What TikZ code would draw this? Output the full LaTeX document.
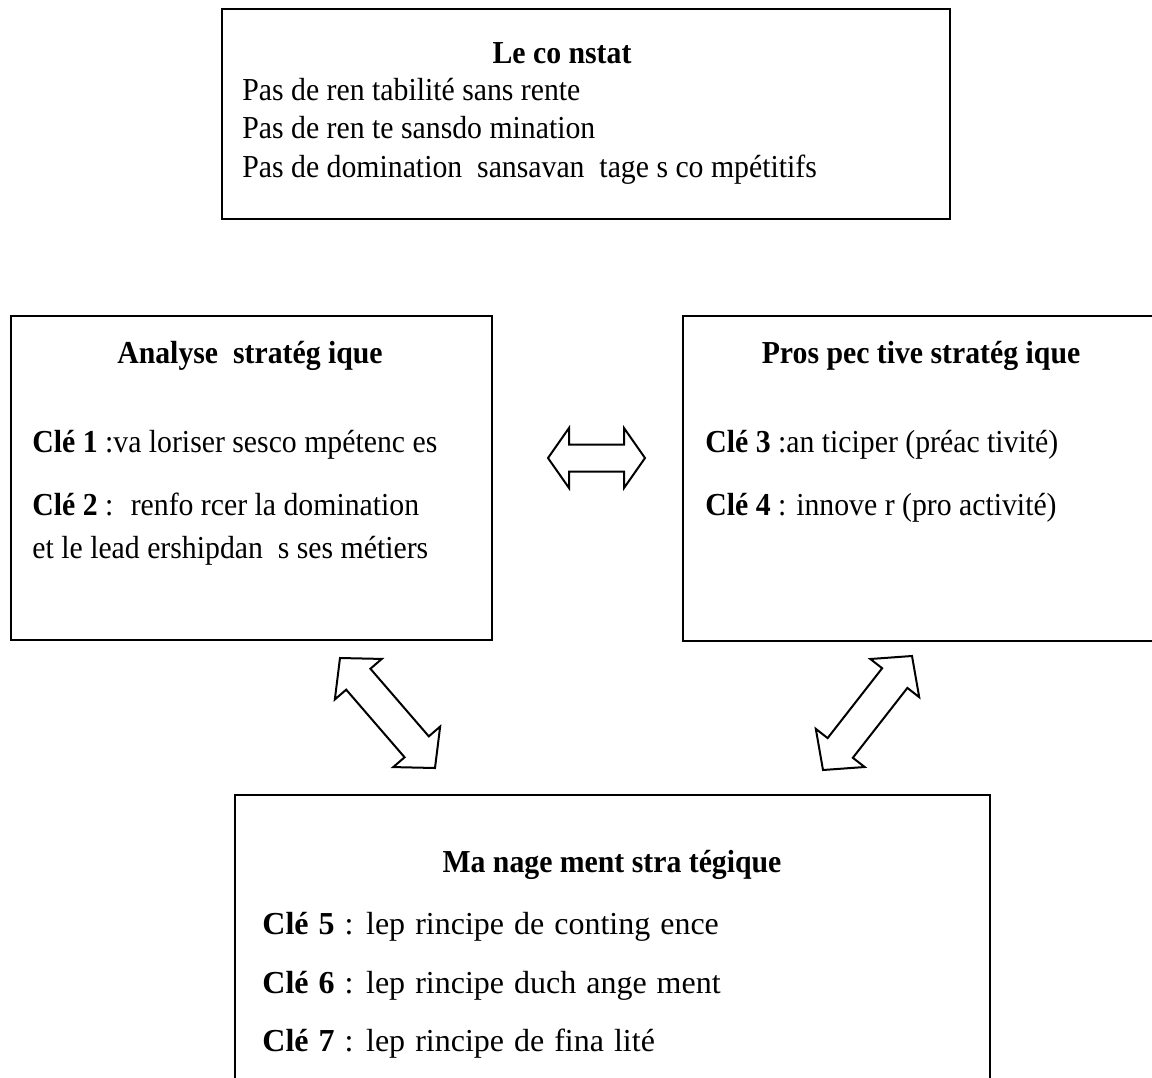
\documentclass[tikz,border=0pt]{standalone}
\usepackage{fontspec}
\setmainfont{Liberation Serif}[FakeStretch=0.93]
\newfontfamily\spacedfont{Liberation Serif}[FakeStretch=1.0,WordSpace=1.25]
\usepackage{tikz}
\usetikzlibrary{calc}

% hollow double arrow between two named points: #3 head length, #4 head half width, #5 shaft half width
\newcommand{\hollowdarrow}[5]{%
	\draw[arrowline]
		(#1)
		--($(#1)!#3!(#2)!#4!90:(#2)$)--($(#1)!#3!(#2)!#5!90:(#2)$)
		--($(#2)!#3!(#1)!#5!-90:(#1)$)--($(#2)!#3!(#1)!#4!-90:(#1)$)
		--(#2)
		--($(#2)!#3!(#1)!#4!90:(#1)$)--($(#2)!#3!(#1)!#5!90:(#1)$)
		--($(#1)!#3!(#2)!#5!-90:(#2)$)--($(#1)!#3!(#2)!#4!-90:(#2)$)
		--cycle;}

\begin{document}
\begin{tikzpicture}[x=0.5pt,y=-0.5pt,font=\fontsize{16}{19}\selectfont]
		\tikzstyle{box}=[draw,line width=1.2pt];
		\tikzstyle{arrowline}=[line width=1pt,line join=miter];
		\tikzstyle{txt}=[inner sep=0pt,anchor=base west];
		\tikzstyle{widetxt}=[txt,font=\fontsize{16}{19}\spacedfont];
		\tikzstyle{title}=[inner sep=0pt,anchor=base,font=\fontsize{16}{19}\selectfont\bfseries];
		\useasboundingbox(0,0)rectangle(1152,1077);
		\clip(0,0)rectangle(1152,1077);

		% le constat
		\draw[box](222,9)rectangle(950,219);
		\node[title](t0) at (562,63){Le co nstat};
		\node[txt](c1) at (242,100){Pas de ren tabilité sans rente};
		\node[txt](c2) at (242,138){Pas de ren te sansdo mination};
		\node[txt](c3) at (242,177){Pas de domination \ sansavan \ tage s co mpétitifs};

		% analyse
		\draw[box](11,316)rectangle(492,640);
		\node[title](t1) at (250,363){Analyse \ stratég ique};
		\node[txt](k1) at (32,452){\textbf{Clé 1} :va loriser sesco mpétenc es};
		\node[txt](k2) at (32,515){\textbf{Clé 2} : \ renfo rcer la domination};
		\node[txt](k2b) at (32,558){et le lead ershipdan \ s ses métiers};

		% prospective
		\draw[box](683,316)rectangle(1162,641);
		\node[title](t2) at (921,363){Pros pec tive stratég ique};
		\node[txt](k3) at (705,452){\textbf{Clé 3} :an ticiper (préac tivité)};
		\node[txt](k4) at (705,515){\textbf{Clé 4} : innove r (pro activité)};

		% management
		\draw[box](235,795)rectangle(990,1095);
		\node[title](t3) at (612,872){Ma nage ment stra tégique};
		\node[widetxt](k5) at (262,934){\textbf{Clé 5} : lep rincipe de conting ence};
		\node[widetxt](k6) at (262,993){\textbf{Clé 6} : lep rincipe duch ange ment};
		\node[widetxt](k7) at (262,1051){\textbf{Clé 7} : lep rincipe de fina lité};

		% arrows
		\coordinate(ha) at (548,458);
		\coordinate(hb) at (645,458);
		\coordinate(la) at (340,658);
		\coordinate(lb) at (435,768);
		\coordinate(ra) at (912,656);
		\coordinate(rb) at (823,770);
		\hollowdarrow{ha}{hb}{10.5pt}{15pt}{6.75pt}
		\hollowdarrow{la}{lb}{14pt}{15.5pt}{8pt}
		\hollowdarrow{ra}{rb}{14pt}{15.5pt}{8pt}
	\end{tikzpicture}
\end{document}
